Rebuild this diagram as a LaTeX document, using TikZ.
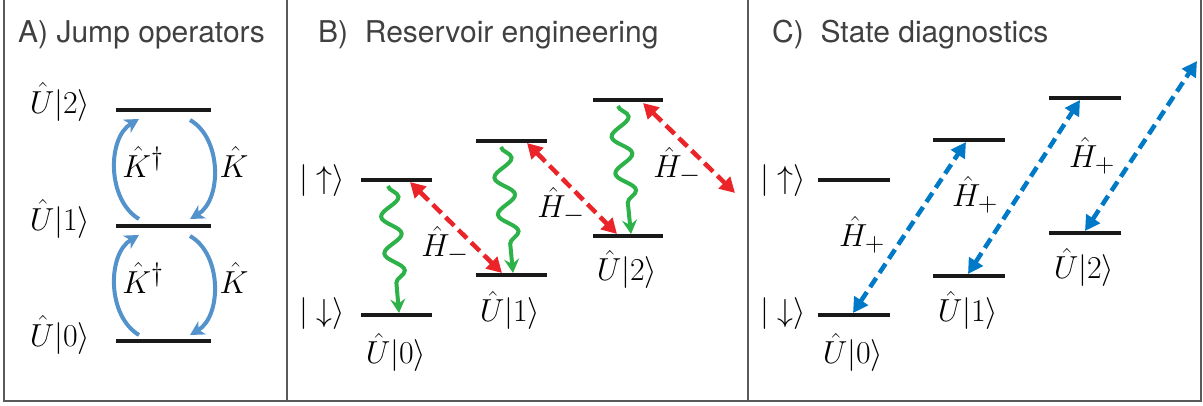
\documentclass[tikz,border=0pt]{standalone}
\usepackage{graphicx}
\usepackage{fontspec}
\setsansfont{TeX Gyre Heros}
\usetikzlibrary{arrows.meta,decorations.pathmorphing}
\definecolor{ablue}{RGB}{84,146,204}
\definecolor{cblue}{RGB}{0,122,198}
\definecolor{hred}{RGB}{234,36,40}
\definecolor{wgreen}{RGB}{44,178,72}
\definecolor{frame}{RGB}{90,90,90}
\newcommand{\mth}[1]{\scalebox{1.28}{$#1$}}
\begin{document}
\begin{tikzpicture}[x=1pt,y=-1pt,
  every node/.style={font=\fontsize{24.88}{30}\selectfont, inner sep=0pt},
  title/.style={font=\sffamily\fontsize{30}{36}\selectfont, text=black!75, anchor=base west},
  level/.style={line width=4.5pt, black!90},
  jump/.style={ablue, line width=4pt, -{Stealth[length=14pt,width=15pt,inset=4pt]}},
  hminus/.style={hred, line width=4.5pt, dash pattern=on 12pt off 6pt,
     {Triangle[length=15pt,width=16pt]}-{Triangle[length=15pt,width=16pt]}},
  hplus/.style={cblue, line width=4.5pt, dash pattern=on 11pt off 6pt,
     {Triangle[length=15pt,width=16pt]}-{Triangle[length=15pt,width=16pt]}},
  decay/.style={wgreen, line width=4pt, decorate,
     decoration={snake, amplitude=9.5pt, segment length=37pt, pre length=0pt, post length=22pt},
     -{Stealth[length=14pt,width=15pt,inset=5pt]}}
]
\useasboundingbox (0,0) rectangle (1203,405);
% frame
\draw[frame, line width=1.4pt] (4,0) -- (4,401) -- (1201,401) -- (1201,0);
\draw[frame, line width=1.4pt] (287,0) -- (287,401);
\draw[frame, line width=1.4pt] (748,0) -- (748,401);

% titles
\node[title] (tA) at (18,42) {A) Jump operators};
\node[title] (tB) at (318,42) {B)\ \ Reservoir engineering};
\node[title] (tC) at (772,42) {C)\ \ State diagnostics};

% ---------------- Panel A ----------------
\draw[level] (116,110) -- (211,110);
\draw[level] (116,226) -- (211,226);
\draw[level] (116,341) -- (211,341);
\node[anchor=base] (a2) at (60,113) {\mth{\hat U|2\rangle}};
\node[anchor=base] (a1) at (60,230) {\mth{\hat U|1\rangle}};
\node[anchor=base] (a0) at (60,346) {\mth{\hat U|0\rangle}};
\coordinate (a1ul) at (139,219);
\coordinate (a2dl) at (139,119);
\coordinate (a2dr) at (190,120);
\coordinate (a1ur) at (190,219);
\coordinate (a0ul) at (139,335);
\coordinate (a1dl) at (139,235);
\coordinate (a1dr) at (190,236);
\coordinate (a0ur) at (190,335);
\draw[jump] (a1ul) .. controls (107,200) and (107,138) .. (a2dl);
\draw[jump] (a2dr) .. controls (222,138) and (222,200) .. (a1ur);
\draw[jump] (a0ul) .. controls (107,316) and (107,254) .. (a1dl);
\draw[jump] (a1dr) .. controls (222,254) and (222,316) .. (a0ur);
\node[anchor=base] (k1) at (143,177) {\mth{\hat K^\dagger}};
\node[anchor=base] (k2) at (234,177) {\mth{\hat K}};
\node[anchor=base] (k3) at (143,293) {\mth{\hat K^\dagger}};
\node[anchor=base] (k4) at (234,293) {\mth{\hat K}};

% ---------------- Panel B ----------------
\draw[level] (361,180) -- (432,180);
\draw[level] (361,315) -- (432,315);
\draw[level] (476,141) -- (547,141);
\draw[level] (476,275) -- (547,275);
\draw[level] (593,100) -- (663,100);
\draw[level] (593,236) -- (663,236);
\node (bup) at (322,181) {\mth{|\uparrow\rangle}};
\node (bdn) at (322,314) {\mth{|\downarrow\rangle}};
\node (bu0) at (396,352) {\mth{\hat U|0\rangle}};
\node (bu1) at (510,310) {\mth{\hat U|1\rangle}};
\node (bu2) at (627,269) {\mth{\hat U|2\rangle}};
\coordinate (g0s) at (388,186);
\coordinate (g0e) at (399,313);
\coordinate (g1s) at (501,147);
\coordinate (g1e) at (513,273);
\coordinate (g2s) at (618,106);
\coordinate (g2e) at (631,234);
\draw[decay] (g0s) -- (g0e);
\draw[decay] (g1s) -- (g1e);
\draw[decay] (g2s) -- (g2e);
\coordinate (r0a) at (410,182);
\coordinate (r0b) at (502,273);
\coordinate (r1a) at (527,143);
\coordinate (r1b) at (617,234);
\coordinate (r2a) at (643,103);
\coordinate (r2b) at (735,193);
\draw[hminus] (r0a) -- (r0b);
\draw[hminus] (r1a) -- (r1b);
\draw[hminus] (r2a) -- (r2b);
\node (hm0) at (445,245) {\mth{\hat H_-}};
\node (hm1) at (561,206) {\mth{\hat H_-}};
\node (hm2) at (677,166) {\mth{\hat H_-}};

% ---------------- Panel C ----------------
\draw[level] (818,180) -- (890,180);
\draw[level] (818,315) -- (890,315);
\draw[level] (933,140) -- (1005,140);
\draw[level] (933,276) -- (1005,276);
\draw[level] (1049,98) -- (1121,98);
\draw[level] (1049,233) -- (1121,233);
\node (cup) at (783,181) {\mth{|\uparrow\rangle}};
\node (cdn) at (783,314) {\mth{|\downarrow\rangle}};
\node (cu0) at (853,352) {\mth{\hat U|0\rangle}};
\node (cu1) at (968,310) {\mth{\hat U|1\rangle}};
\node (cu2) at (1084,267) {\mth{\hat U|2\rangle}};
\coordinate (b0a) at (853,313);
\coordinate (b0b) at (966,142);
\coordinate (b1a) at (968,274);
\coordinate (b1b) at (1080,100);
\coordinate (b2a) at (1085,231);
\coordinate (b2b) at (1197,61);
\draw[hplus] (b0a) -- (b0b);
\draw[hplus] (b1a) -- (b1b);
\draw[hplus] (b2a) -- (b2b);
\node (hp0) at (862,235) {\mth{\hat H_+}};
\node (hp1) at (975,195) {\mth{\hat H_+}};
\node (hp2) at (1092,156) {\mth{\hat H_+}};
\end{tikzpicture}
\end{document}
